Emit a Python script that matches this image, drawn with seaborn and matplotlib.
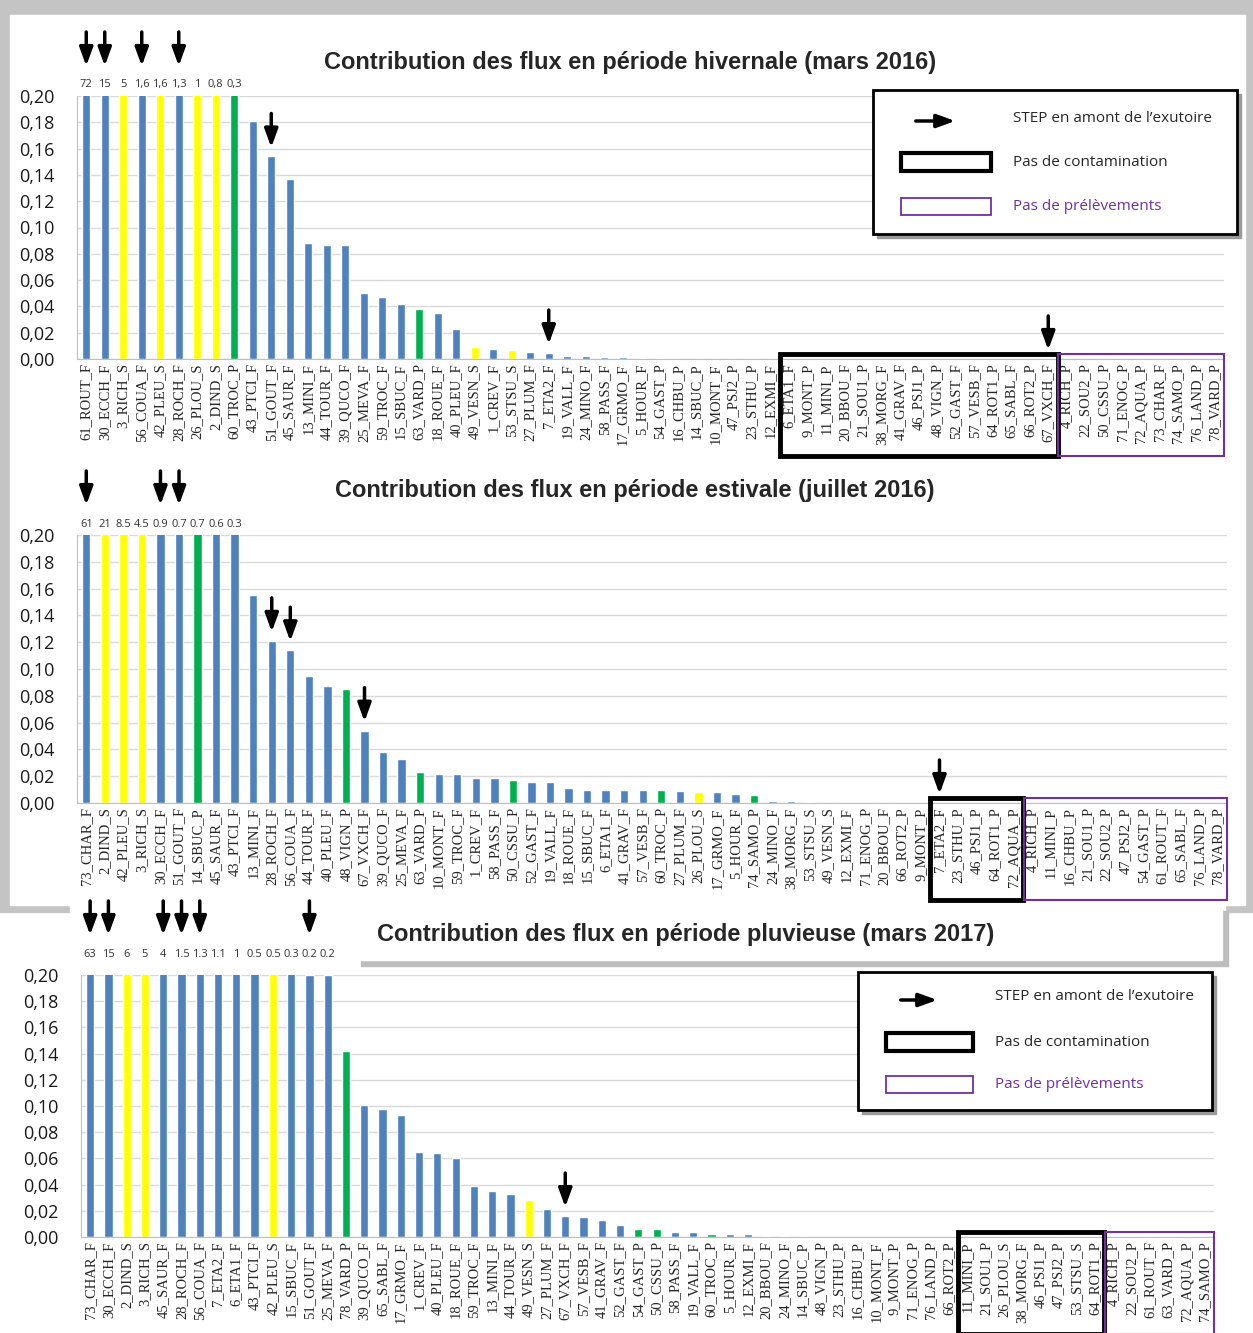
import numpy as np
import pandas as pd
import seaborn as sns
import matplotlib.pyplot as plt
from matplotlib.patches import Rectangle, FancyArrowPatch

# ---- data ----
# values above 0.20 are cut by the axis, their value is written on top

labels_hiver = ["61_ROUT_F", "30_ECCH_F", "3_RICH_S", "56_COUA_F", "42_PLEU_S", "28_ROCH_F",
                "26_PLOU_S", "2_DIND_S", "60_TROC_P", "43_PTCI_F", "51_GOUT_F", "45_SAUR_F",
                "13_MINI_F", "44_TOUR_F", "39_QUCO_F", "25_MEVA_F", "59_TROC_F", "15_SBUC_F",
                "63_VARD_P", "18_ROUE_F", "40_PLEU_F", "49_VESN_S", "1_CREV_F", "53_STSU_S",
                "27_PLUM_F", "7_ETA2_F", "19_VALL_F", "24_MINO_F", "58_PASS_F", "17_GRMO_F",
                "5_HOUR_F", "54_GAST_P", "16_CHBU_P", "14_SBUC_P", "10_MONT_F", "47_PSJ2_P",
                "23_STHU_P", "12_EXMI_F", "6_ETA1_F", "9_MONT_P", "11_MINI_P", "20_BBOU_F",
                "21_SOU1_P", "38_MORG_F", "41_GRAV_F", "46_PSJ1_P", "48_VIGN_P", "52_GAST_F",
                "57_VESB_F", "64_ROT1_P", "65_SABL_F", "66_ROT2_P", "67_VXCH_F", "4_RICH_P",
                "22_SOU2_P", "50_CSSU_P", "71_ENOG_P", "72_AQUA_P", "73_CHAR_F", "74_SAMO_P",
                "76_LAND_P", "78_VARD_P"]
flux_hiver = [72, 15, 5, 1.6, 1.6, 1.3, 1, 0.8, 0.3, 0.181, 0.154, 0.137,
              0.088, 0.087, 0.087, 0.050, 0.047, 0.042, 0.038, 0.035, 0.023, 0.009,
              0.0075, 0.0065, 0.005, 0.0045, 0.002, 0.002, 0.0018, 0.0012, 0.001, 0.0005,
              0, 0, 0, 0, 0, 0, 0, 0, 0, 0, 0, 0, 0, 0, 0, 0, 0, 0, 0, 0, 0, 0, 0, 0,
              0, 0, 0, 0, 0, 0]
arrows_hiver = [0, 1, 3, 5, 10, 25, 52]

labels_ete = ["73_CHAR_F", "2_DIND_S", "42_PLEU_S", "3_RICH_S", "30_ECCH_F", "51_GOUT_F",
              "14_SBUC_P", "45_SAUR_F", "43_PTCI_F", "13_MINI_F", "28_ROCH_F", "56_COUA_F",
              "44_TOUR_F", "40_PLEU_F", "48_VIGN_P", "67_VXCH_F", "39_QUCO_F", "25_MEVA_F",
              "63_VARD_P", "10_MONT_F", "59_TROC_F", "1_CREV_F", "58_PASS_F", "50_CSSU_P",
              "52_GAST_F", "19_VALL_F", "18_ROUE_F", "15_SBUC_F", "6_ETA1_F", "41_GRAV_F",
              "57_VESB_F", "60_TROC_P", "27_PLUM_F", "26_PLOU_S", "17_GRMO_F", "5_HOUR_F",
              "74_SAMO_P", "24_MINO_F", "38_MORG_F", "53_STSU_S", "49_VESN_S", "12_EXMI_F",
              "71_ENOG_P", "20_BBOU_F", "66_ROT2_P", "9_MONT_P", "7_ETA2_F", "23_STHU_P",
              "46_PSJ1_P", "64_ROT1_P", "72_AQUA_P", "4_RICH_P", "11_MINI_P", "16_CHBU_P",
              "21_SOU1_P", "22_SOU2_P", "47_PSJ2_P", "54_GAST_P", "61_ROUT_F", "65_SABL_F",
              "76_LAND_P", "78_VARD_P"]
flux_ete = [61, 21, 8.5, 4.5, 0.9, 0.7, 0.7, 0.6, 0.3, 0.155, 0.121, 0.114,
            0.095, 0.087, 0.085, 0.054, 0.038, 0.033, 0.023, 0.022, 0.022, 0.019, 0.019, 0.017,
            0.016, 0.016, 0.011, 0.010, 0.010, 0.010, 0.010, 0.010, 0.009, 0.008, 0.008, 0.007,
            0.006, 0.0015, 0.0015, 0.0005, 0, 0, 0, 0, 0, 0, 0, 0, 0, 0, 0, 0,
            0, 0, 0, 0, 0, 0, 0, 0, 0, 0]
arrows_ete = [0, 4, 5, 10, 11, 15, 46]

labels_pluie = ["73_CHAR_F", "30_ECCH_F", "2_DIND_S", "3_RICH_S", "45_SAUR_F", "28_ROCH_F",
                "56_COUA_F", "7_ETA2_F", "6_ETA1_F", "43_PTCI_F", "42_PLEU_S", "15_SBUC_F",
                "51_GOUT_F", "25_MEVA_F", "78_VARD_P", "39_QUCO_F", "65_SABL_F", "17_GRMO_F",
                "1_CREV_F", "40_PLEU_F", "18_ROUE_F", "59_TROC_F", "13_MINI_F", "44_TOUR_F",
                "49_VESN_S", "27_PLUM_F", "67_VXCH_F", "57_VESB_F", "41_GRAV_F", "52_GAST_F",
                "54_GAST_P", "50_CSSU_P", "58_PASS_F", "19_VALL_F", "60_TROC_P", "5_HOUR_F",
                "12_EXMI_F", "20_BBOU_F", "24_MINO_F", "14_SBUC_P", "48_VIGN_P", "23_STHU_P",
                "16_CHBU_P", "10_MONT_F", "9_MONT_P", "71_ENOG_P", "76_LAND_P", "66_ROT2_P",
                "11_MINI_P", "21_SOU1_P", "26_PLOU_S", "38_MORG_F", "46_PSJ1_P", "47_PSJ2_P",
                "53_STSU_S", "64_ROT1_P", "4_RICH_P", "22_SOU2_P", "61_ROUT_F", "63_VARD_P",
                "72_AQUA_P", "74_SAMO_P"]
flux_pluie = [63, 15, 6, 5, 4, 1.5, 1.3, 1.1, 1, 0.5, 0.5, 0.3, 0.2, 0.2,
              0.142, 0.101, 0.098, 0.093, 0.065, 0.064, 0.060, 0.039, 0.035, 0.033, 0.028, 0.021,
              0.016, 0.015, 0.013, 0.009, 0.006, 0.006, 0.004, 0.004, 0.002, 0.002, 0.002, 0.001,
              0.001, 0.0005, 0, 0, 0, 0, 0, 0, 0, 0, 0, 0, 0, 0, 0, 0, 0, 0,
              0, 0, 0, 0, 0, 0]
arrows_pluie = [0, 1, 4, 5, 6, 12, 26]

# bar colour from station type (suffix)
colors = {"F": "#4f81bd", "S": "#ffff00", "P": "#00b050"}

W, H = 1253, 1333

sns.set_style("white")
plt.rcParams['font.family'] = ['Open Sans', 'DejaVu Sans']

fig = plt.figure(figsize=(W / 100, H / 100), dpi=100)
fig.patch.set_facecolor("white")


def px_axes(l, t, r, b, z=0):
    a = fig.add_axes([l / W, 1 - b / H, (r - l) / W, (b - t) / H], zorder=z)
    return a


# background and overlay in pixel coords
bg = px_axes(0, 0, W, H, z=-5)
bg.set_xlim(0, W)
bg.set_ylim(H, 0)
bg.axis('off')
bg.add_patch(Rectangle((0, 0), W, 912, color="#c4c4c4"))
bg.add_patch(Rectangle((10, 15), 1235, 890, color="white"))
bg.add_patch(Rectangle((70, 905), 1155, 428, color="white"))
bg.add_patch(Rectangle((361, 911), 867, 55, color="#bdbdbd"))
bg.add_patch(Rectangle((355, 905), 867, 55, color="white"))

fg = px_axes(0, 0, W, H, z=20)
fg.set_xlim(0, W)
fg.set_ylim(H, 0)
fg.axis('off')
fg.patch.set_alpha(0)


def draw_panel(ax, labels, flux, sep, arrows, black, purple, top_gap, lab_off):
    df = pd.DataFrame({'station': labels, 'flux': flux})
    df['type'] = df['station'].str[-1]
    sns.barplot(data=df, x='station', y='flux', hue='type', palette=colors,
                dodge=False, width=0.45, saturation=1, legend=False, ax=ax)
    ax.set_facecolor('none')
    ax.set_ylim(0, 0.2)
    ax.set_xlim(-0.5, len(labels) - 0.5)
    yt = np.arange(0, 0.201, 0.02)
    ax.set_yticks(yt)
    ax.set_yticklabels([f"{t:.2f}".replace('.', ',') for t in yt], fontsize=13, color='#1a1a1a')
    ax.grid(axis='y', color='#d9d9d9', lw=1)
    ax.set_axisbelow(True)
    ax.set_xlabel('')
    ax.set_ylabel('')
    for s in ['top', 'right']:
        ax.spines[s].set_visible(False)
    ax.spines['left'].set_color('#bfbfbf')
    ax.spines['bottom'].set_color('#bfbfbf')
    ax.set_xticks(range(len(labels)))
    ax.set_xticklabels(labels, rotation=90, fontsize=10.5, family='Liberation Serif')
    ax.set_xticks(np.arange(-0.5, len(labels)), minor=True)
    ax.tick_params(axis='x', which='major', length=0, pad=3)
    ax.tick_params(axis='x', which='minor', length=5, color='#bfbfbf')
    ax.tick_params(axis='y', length=0, pad=16)

    # values of cut bars
    for i, v in enumerate(flux):
        if v >= 0.2:
            ax.annotate(f"{v:g}".replace('.', sep), xy=(i, 0.2), xytext=(0, lab_off),
                        textcoords='offset pixels', ha='center', va='bottom',
                        fontsize=8, color='#333333', annotation_clip=False)

    # STEP arrows
    for i in arrows:
        v = min(flux[i], 0.2)
        gap = top_gap if flux[i] >= 0.2 else 9
        ax.annotate('', xy=(i, v), xytext=(0, gap + 34), textcoords='offset pixels',
                    arrowprops=dict(arrowstyle='-|>,head_length=0.55,head_width=0.2',
                                    color='black', lw=2.5, shrinkA=0, shrinkB=gap * 0.72,
                                    mutation_scale=20),
                    annotation_clip=False)

    # boxes around the stations without contamination / without samples
    hpx = ax.get_window_extent().height
    y0 = -97 / hpx
    hh = 102 / hpx
    tr = ax.get_xaxis_transform()
    ax.add_patch(Rectangle((black[0] - 0.5, y0), black[1] - black[0] + 1, hh, transform=tr,
                           fill=False, ec='black', lw=3.5, clip_on=False, zorder=5))
    ax.add_patch(Rectangle((purple[0] - 0.45, y0), purple[1] - purple[0] + 0.95, hh, transform=tr,
                           fill=False, ec='#7030a0', lw=1.5, clip_on=False, zorder=5))


ax1 = px_axes(77, 96, 1224, 359)
draw_panel(ax1, labels_hiver, flux_hiver, ',', arrows_hiver, (38, 52), (53, 61), 30, 6)
ax2 = px_axes(77, 535, 1227, 803)
draw_panel(ax2, labels_ete, flux_ete, '.', arrows_ete, (46, 50), (51, 61), 30, 5)
ax3 = px_axes(81, 975, 1214, 1237)
draw_panel(ax3, labels_pluie, flux_pluie, '.', arrows_pluie, (48, 55), (56, 61), 40, 15)

# titles
title_kw = dict(ha='center', va='center', fontsize=17, fontweight='bold', family='Liberation Sans')
fg.text(630, 62, "Contribution des flux en période hivernale (mars 2016)", **title_kw)
fg.text(635, 490, "Contribution des flux en période estivale (juillet 2016)", **title_kw)
fg.text(686, 934, "Contribution des flux en période pluvieuse (mars 2017)", **title_kw)


def legend_box(x0, y0, x1, y1, ya, yb, yc, arr, rx, tx):
    fg.add_patch(Rectangle((x0 + 4, y0 + 4), x1 - x0, y1 - y0, color='#9a9a9a'))
    fg.add_patch(Rectangle((x0, y0), x1 - x0, y1 - y0, fc='white', ec='black', lw=2))
    fg.add_patch(FancyArrowPatch((arr[0], ya), (arr[1], ya),
                                 arrowstyle='-|>,head_length=0.55,head_width=0.2',
                                 mutation_scale=20, lw=2.5, color='black'))
    fg.add_patch(Rectangle((rx[0], yb - 9), rx[1] - rx[0], 18, fill=False, ec='black', lw=3))
    fg.add_patch(Rectangle((rx[0], yc - 8.5), rx[1] - rx[0], 17, fill=False, ec='#7030a0', lw=1.3))
    fg.text(tx, ya - 3, "STEP en amont de l’exutoire", va='center', fontsize=11, color='#262626')
    fg.text(tx, yb, "Pas de contamination", va='center', fontsize=11, color='#262626')
    fg.text(tx, yc, "Pas de prélèvements", va='center', fontsize=11, color='#7030a0')


legend_box(873, 90, 1237, 234, 121, 162, 206, (913, 958), (901, 991), 1013)
legend_box(858, 972, 1212, 1110, 1000, 1042, 1084, (898, 940), (886, 973), 995)

fig.savefig("out.png", dpi=100, facecolor=fig.get_facecolor())
